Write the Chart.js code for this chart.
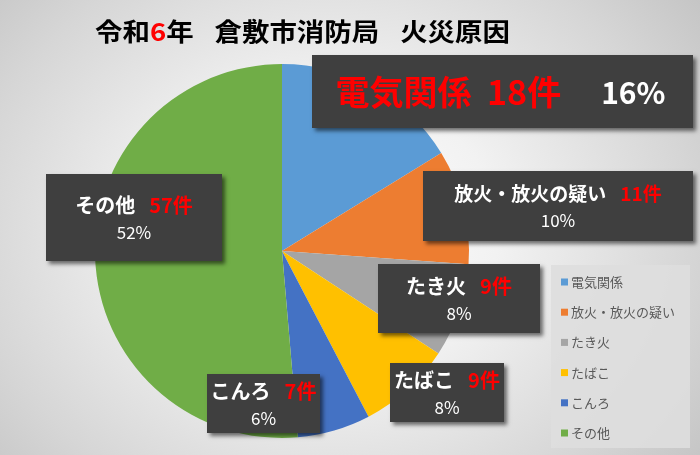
<!DOCTYPE html>
<html><head><meta charset="utf-8">
<script src="https://cdn.jsdelivr.net/npm/chart.js@4"></script>
<style>
html,body{margin:0;padding:0;}
body{width:700px;height:455px;overflow:hidden;background:radial-gradient(ellipse 480px 400px at 330px 230px,#ffffff 0%,#f2f2f2 35%,#d6d6d6 75%,#c2c2c2 100%);}
#wrap{position:relative;width:700px;height:455px;}
canvas{display:block;}
</style></head>
<body><div id="wrap"><canvas id="c" width="700" height="455"></canvas></div>
<script>
const categories = ["電気関係","放火・放火の疑い","たき火","たばこ","こんろ","その他"];
const counts = [18, 11, 9, 9, 7, 57];
const percentLabels = ["16%","10%","8%","8%","6%","52%"];
const colors = ["#5B9BD5","#ED7D31","#A5A5A5","#FFC000","#4472C4","#70AD47"];
const FONT = '"Noto Sans CJK JP","Noto Sans",sans-serif';

// label box layout (x, y, w, h) and style
const boxes = [
  {x:312,y:55,w:381,h:73, single:true},
  {x:423,y:171,w:270,h:70, fs:19},
  {x:378,y:264,w:162,h:69, fs:20},
  {x:390,y:363,w:114,h:59, fs:20},
  {x:207,y:374,w:113,h:59, fs:20},
  {x:46,y:174,w:176,h:87, fs:20}
];

function fillStretched(ctx,text,x,y,sx){
  ctx.save(); ctx.translate(x,y); ctx.scale(sx,1); ctx.fillText(text,0,0); ctx.restore();
}

const labelPlugin = {
  id:'labelBoxes',
  afterDraw(chart){
    const ctx = chart.ctx;
    const data = chart.data;
    // Title
    ctx.save();
    ctx.textBaseline='middle'; ctx.textAlign='left';
    const tParts=[["令和","#000"],["6","#ff0000"],["年","#000"],[null,19],["倉敷市消防局","#000"],[null,19],["火災原因","#000"]];
    ctx.font='bold 25px '+FONT;
    let tw=0; tParts.forEach(p=>tw+= p[0]===null ? p[1] : ctx.measureText(p[0]).width);
    const target=415, sx=target/tw;
    let tx=95;
    tParts.forEach(p=>{
      if(p[0]===null){tx+=p[1]*sx;return;}
      ctx.fillStyle=p[1]; fillStretched(ctx,p[0],tx,31,sx);
      tx+=ctx.measureText(p[0]).width*sx;
    });
    ctx.restore();

    // Label boxes
    boxes.forEach((b,i)=>{
      ctx.save();
      ctx.shadowColor='rgba(0,0,0,0.55)';
      ctx.shadowOffsetX=3; ctx.shadowOffsetY=3; ctx.shadowBlur=4;
      ctx.fillStyle='#3f3f3f';
      ctx.fillRect(b.x,b.y,b.w,b.h);
      ctx.restore();
      ctx.save();
      ctx.textBaseline='middle'; ctx.textAlign='left';
      const name=data.labels[i];
      const cnt=data.datasets[0].data[i]+'件';
      const pct=percentLabels[i];
      const cx=b.x+b.w/2;
      if(b.single){
        const f1='bold 34px '+FONT, f2='bold 30px '+FONT;
        ctx.font=f1;
        const w1=ctx.measureText(name+'  '+cnt).width;
        ctx.font=f2;
        const w2=ctx.measureText(pct).width;
        const gap=40;
        let x=cx-(w1+gap+w2)/2-2;
        const y=b.y+b.h/2+1;
        ctx.font=f1; ctx.fillStyle='#ff0000';
        ctx.fillText(name+'  '+cnt,x,y);
        x+=w1+gap;
        ctx.font=f2; ctx.fillStyle='#ffffff';
        ctx.fillText(pct,x,y);
      } else {
        const f1='bold '+b.fs+'px '+FONT;
        ctx.font=f1;
        const wa=ctx.measureText(name).width;
        const sp=14;
        const wb=ctx.measureText(cnt).width;
        let x=cx-(wa+sp+wb)/2;
        const y1=b.y+b.h/2-12, y2=b.y+b.h/2+15;
        ctx.fillStyle='#ffffff'; ctx.fillText(name,x,y1);
        ctx.fillStyle='#ff0000'; ctx.fillText(cnt,x+wa+sp,y1);
        ctx.font='17px '+FONT; ctx.fillStyle='#ffffff'; ctx.textAlign='center';
        ctx.fillText(pct,cx,y2);
      }
      ctx.restore();
    });

    // Legend
    ctx.save();
    ctx.fillStyle='rgba(222,222,222,0.9)';
    ctx.fillRect(551,265,139,183);
    ctx.textBaseline='middle'; ctx.textAlign='left';
    ctx.font='13px '+FONT;
    data.labels.forEach((l,i)=>{
      const y=282+i*30.2;
      ctx.fillStyle=data.datasets[0].backgroundColor[i];
      ctx.fillRect(561,y-3.5,7,7);
      ctx.fillStyle='#595959';
      ctx.fillText(l,571,y);
    });
    ctx.restore();
  }
};

new Chart(document.getElementById('c'),{
  type:'pie',
  data:{labels:categories,datasets:[{data:counts,backgroundColor:colors,borderWidth:0}]},
  options:{
    responsive:false, animation:false,
    layout:{padding:{left:95,right:231,top:64,bottom:17}},
    plugins:{legend:{display:false},tooltip:{enabled:false},title:{display:false}}
  },
  plugins:[labelPlugin]
});
</script></body></html>
